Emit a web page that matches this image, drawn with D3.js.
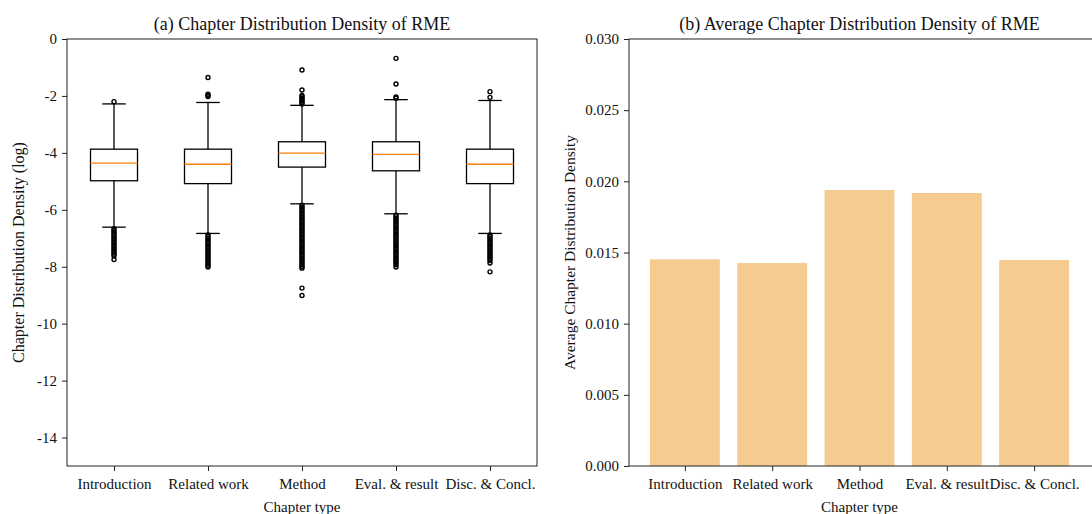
<!DOCTYPE html>
<html>
<head>
<meta charset="utf-8">
<script src="https://cdn.jsdelivr.net/npm/d3@7"></script>
<style>
  body { margin: 0; background: #fff; }
  svg text { font-family: "Liberation Serif", "Times New Roman", serif; fill: #111; }
  .axis path, .axis line { stroke: #222; }
</style>
</head>
<body>
<div id="chart"></div>
<script>
// categories
var chapters = ['Introduction', 'Related work', 'Method', 'Eval. & result', 'Disc. & Concl.'];

// (a) box stats (log density)
var q1 = [-4.98, -5.08, -4.50, -4.63, -5.08];
var medians = [-4.36, -4.40, -4.01, -4.05, -4.40];
var q3 = [-3.87, -3.87, -3.61, -3.61, -3.87];
var whiskLow = [-6.61, -6.83, -5.79, -6.14, -6.83];
var whiskHigh = [-2.28, -2.23, -2.33, -2.13, -2.16];

// outliers per chapter
var fliersIntro = [-2.20,
  -6.66, -6.72, -6.78, -6.84, -6.90, -6.96, -7.02, -7.08, -7.14, -7.20,
  -7.26, -7.32, -7.38, -7.44, -7.50, -7.56, -7.62, -7.75];
var fliersRelated = [-1.35, -1.94, -1.98, -2.02,
  -6.88, -6.94, -7.00, -7.06, -7.12, -7.18, -7.24, -7.30, -7.36, -7.42,
  -7.48, -7.54, -7.60, -7.66, -7.72, -7.78, -7.84, -7.90, -7.96, -8.01];
var fliersMethod = [-1.09, -1.79, -1.98, -2.03, -2.08, -2.13, -2.18, -2.23, -2.28,
  -5.84, -5.90, -5.96, -6.02, -6.08, -6.14, -6.20, -6.26, -6.32, -6.38,
  -6.44, -6.50, -6.56, -6.62, -6.68, -6.74, -6.80, -6.86, -6.92, -6.98,
  -7.04, -7.10, -7.16, -7.22, -7.28, -7.34, -7.40, -7.46, -7.52, -7.58,
  -7.64, -7.70, -7.76, -7.82, -7.88, -7.94, -8.00, -8.05, -8.75, -9.01];
var fliersEval = [-0.68, -1.58, -2.04, -2.08,
  -6.19, -6.25, -6.31, -6.37, -6.43, -6.49, -6.55, -6.61, -6.67, -6.73,
  -6.79, -6.85, -6.91, -6.97, -7.03, -7.09, -7.15, -7.21, -7.27, -7.33,
  -7.39, -7.45, -7.51, -7.57, -7.63, -7.69, -7.75, -7.81, -7.87, -7.93, -8.01];
var fliersDisc = [-1.85, -2.05,
  -6.88, -6.94, -7.00, -7.06, -7.12, -7.18, -7.24, -7.30, -7.36, -7.42,
  -7.48, -7.54, -7.60, -7.66, -7.72, -7.78, -7.87, -8.18];
var fliers = [fliersIntro, fliersRelated, fliersMethod, fliersEval, fliersDisc];

var logTicks = [0, -2, -4, -6, -8, -10, -12, -14];

// (b) average density
var avgDensity = [0.01452, 0.01426, 0.01939, 0.01918, 0.01447];
var avgTicks = [0, 0.005, 0.010, 0.015, 0.020, 0.025, 0.030];

var W = 1092, H = 514;
var svg = d3.select('#chart').append('svg').attr('width', W).attr('height', H);

// ---------- (a) boxplot ----------
var aL = 67, aR = 537, aT = 39, aB = 466;
var xA = d3.scaleLinear().domain([0.5, 5.5]).range([aL, aR]);
var yA = d3.scaleLinear().domain([-15, 0]).range([aB, aT]);

var ga = svg.append('g');
ga.append('rect').attr('x', aL).attr('y', aT).attr('width', aR - aL).attr('height', aB - aT)
  .attr('fill', 'none').attr('stroke', '#222').attr('stroke-width', 1);

chapters.forEach(function (c, i) {
  var cx = xA(i + 1);
  var bw = xA(1.25) - xA(1);   // half box width
  var cw = bw / 2;
  var g = ga.append('g');
  // whiskers
  g.append('line').attr('x1', cx).attr('x2', cx).attr('y1', yA(q1[i])).attr('y2', yA(whiskLow[i]))
    .attr('stroke', '#000').attr('stroke-width', 1.3);
  g.append('line').attr('x1', cx).attr('x2', cx).attr('y1', yA(q3[i])).attr('y2', yA(whiskHigh[i]))
    .attr('stroke', '#000').attr('stroke-width', 1.3);
  // caps
  [whiskLow[i], whiskHigh[i]].forEach(function (v) {
    g.append('line').attr('x1', cx - cw).attr('x2', cx + cw).attr('y1', yA(v)).attr('y2', yA(v))
      .attr('stroke', '#000').attr('stroke-width', 1.3);
  });
  // box
  g.append('rect').attr('x', cx - bw).attr('width', 2 * bw)
    .attr('y', yA(q3[i])).attr('height', yA(q1[i]) - yA(q3[i]))
    .attr('fill', 'none').attr('stroke', '#000').attr('stroke-width', 1.3);
  // median
  g.append('line').attr('x1', cx - bw).attr('x2', cx + bw).attr('y1', yA(medians[i])).attr('y2', yA(medians[i]))
    .attr('stroke', '#ff7f0e').attr('stroke-width', 1.3);
  // fliers
  g.selectAll('circle').data(fliers[i]).enter().append('circle')
    .attr('cx', cx).attr('cy', d => yA(d)).attr('r', 2)
    .attr('fill', 'none').attr('stroke', '#000').attr('stroke-width', 1.4);
});

var hyphen = d => String(d).replace('\u2212', '-');

var axA = ga.append('g').attr('class', 'axis').attr('transform', 'translate(0,' + aB + ')')
  .call(d3.axisBottom(xA).tickValues([1, 2, 3, 4, 5]).tickFormat(d => chapters[d - 1]).tickSize(5).tickPadding(7));
axA.select('.domain').remove();
axA.selectAll('text').attr('font-size', 15);

var ayA = ga.append('g').attr('class', 'axis').attr('transform', 'translate(' + aL + ',0)')
  .call(d3.axisLeft(yA).tickValues(logTicks).tickFormat(d => hyphen(d)).tickSize(5).tickPadding(5));
ayA.select('.domain').remove();
ayA.selectAll('text').attr('font-size', 15);

ga.append('text').attr('x', (aL + aR) / 2).attr('y', 30).attr('text-anchor', 'middle')
  .attr('font-size', 18).text('(a) Chapter Distribution Density of RME');
ga.append('text').attr('x', (aL + aR) / 2).attr('y', 512).attr('text-anchor', 'middle')
  .attr('font-size', 15).text('Chapter type');
ga.append('text').attr('transform', 'translate(24,' + (aT + aB) / 2 + ') rotate(-90)')
  .attr('text-anchor', 'middle').attr('font-size', 16).text('Chapter Distribution Density (log)');

// ---------- (b) bars ----------
var bL = 629, bR = 1090, bT = 39, bB = 466;
var xB = d3.scaleLinear().domain([-0.64, 4.64]).range([bL, bR]);
var yB = d3.scaleLinear().domain([0, 0.030]).range([bB, bT]);

var gb = svg.append('g');
gb.selectAll('rect.bar').data(avgDensity).enter().append('rect').attr('class', 'bar')
  .attr('x', (d, i) => xB(i - 0.4)).attr('width', xB(0.8) - xB(0))
  .attr('y', d => yB(d)).attr('height', d => yB(0) - yB(d))
  .attr('fill', '#f5cb8f');

// frame: right spine falls just past the picture edge in the original
gb.append('rect').attr('x', bL).attr('y', bT).attr('width', bR - bL + 4).attr('height', bB - bT)
  .attr('fill', 'none').attr('stroke', '#222').attr('stroke-width', 1);

var axB = gb.append('g').attr('class', 'axis').attr('transform', 'translate(0,' + bB + ')')
  .call(d3.axisBottom(xB).tickValues([0, 1, 2, 3, 4]).tickFormat(d => chapters[d]).tickSize(5).tickPadding(7));
axB.select('.domain').remove();
axB.selectAll('text').attr('font-size', 15);

var ayB = gb.append('g').attr('class', 'axis').attr('transform', 'translate(' + bL + ',0)')
  .call(d3.axisLeft(yB).tickValues(avgTicks).tickFormat(d3.format('.3f')).tickSize(5).tickPadding(5));
ayB.select('.domain').remove();
ayB.selectAll('text').attr('font-size', 15);

gb.append('text').attr('x', (bL + bR) / 2).attr('y', 30).attr('text-anchor', 'middle')
  .attr('font-size', 18).text('(b) Average Chapter Distribution Density of RME');
gb.append('text').attr('x', (bL + bR) / 2).attr('y', 512).attr('text-anchor', 'middle')
  .attr('font-size', 15).text('Chapter type');
gb.append('text').attr('transform', 'translate(575,' + (bT + bB) / 2 + ') rotate(-90)')
  .attr('text-anchor', 'middle').attr('font-size', 15.5).text('Average Chapter Distribution Density');
</script>
</body>
</html>
